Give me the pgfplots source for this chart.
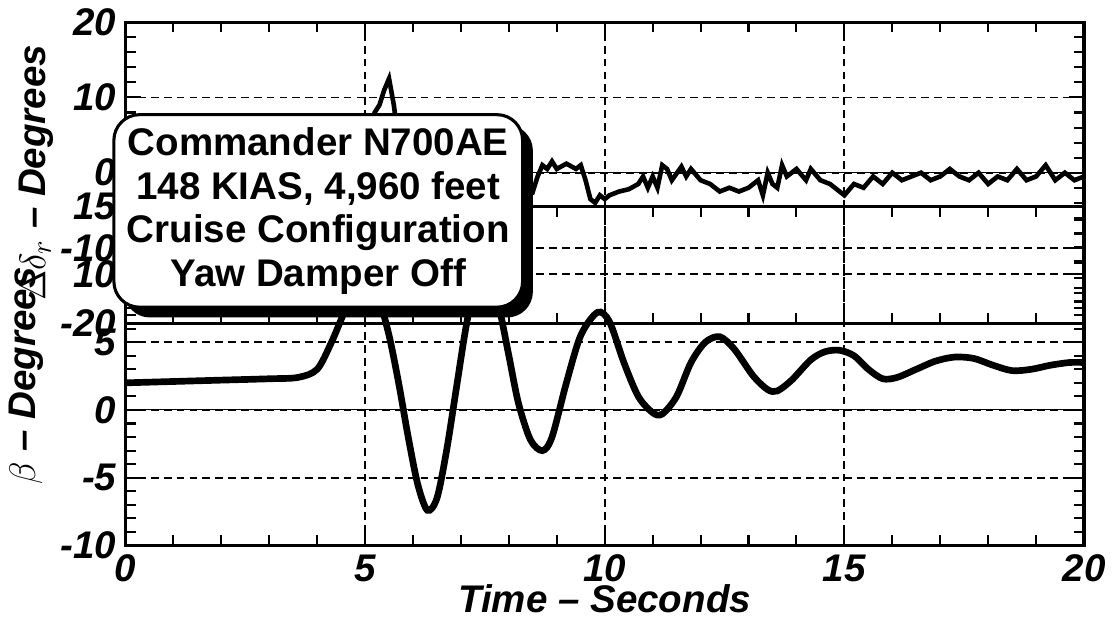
\documentclass[border=0pt]{standalone}
\usepackage{pgfplots}
\pgfplotsset{compat=1.18}
\usepackage{fontspec}
\setmainfont{Liberation Sans}
\usetikzlibrary{shadows}
\begin{document}
\begin{tikzpicture}[x=0.01346cm,y=0.01346cm]
\pgfplotsset{every axis/.style={scale only axis, width=13.12cm, xmin=0,xmax=20,
 grid=major, major grid style={black,densely dashed,line width=0.7pt},
 axis line style={line width=1.2pt}, tick style={black,line width=0.8pt},
 minor x tick num=4, minor y tick num=4, tick align=inside,
 major tick length=6pt, minor tick length=4pt,
 tick label style={font=\fontsize{15}{17}\selectfont\bfseries\itshape},
 label style={font=\fontsize{15}{17}\selectfont\bfseries\itshape},
 /pgf/number format/assume math mode=true}}
\begin{axis}[at={(128,427)}, anchor=south west, height=4.12cm, ymin=-20,ymax=20,
 ytick={-20,-10,0,10,20}, xtick={0,5,10,15,20}, xticklabels={},
 ylabel={$\Delta\delta_r$ -- Degrees}, ylabel style={yshift=-4pt}]
\addplot[black,thin,forget plot] coordinates {(0,0)(20,0)};
\addplot[black,line width=1.8pt] coordinates {
(0,-1.5)(0.1,-0.5)(0.2,-2)(0.3,-0.8)(0.4,-1.8)(0.5,-0.5)(0.6,-1.5)(0.7,-0.8)(0.8,-2)(0.9,-0.5)(1.0,-1.6)(1.1,-0.4)(1.2,-1.8)(1.3,-0.6)(1.4,-1.5)(1.5,0)(1.6,-1.8)(1.7,-0.7)(1.8,-1.6)(1.9,-0.3)(2.0,-1.7)(2.1,-0.8)(2.2,-1.5)(2.3,-1.5)(2.4,-1.2)(2.5,-1.8)(2.6,-1)(2.7,-1.6)(2.8,-1.3)(2.9,-1.7)(3.0,-1.5)(3.1,-1.2)(3.2,-1.9)(3.3,-1)(3.4,-2.5)
(3.5,-5)(3.65,-8)(3.75,-11)(3.85,-11.5)(4.0,-12)(4.1,-12.5)(4.2,-13.5)(4.35,-13.5)(4.45,-12.8)(4.55,-13.5)(4.6,-11)(4.7,-5)(4.8,0.5)(4.9,4)(5.0,4.5)(5.1,5.5)(5.2,8)(5.3,9)(5.4,11)(5.5,12.5)
(5.6,9)(5.7,4)(5.8,-2)(5.85,-3)(5.9,1)(6.0,-1)(6.1,-2)(6.2,-3.5)(6.3,-4.5)(6.4,-0.5)(6.5,1)(6.7,1)(6.8,0.2)(6.9,1.2)(7.0,1.5)(7.1,1)(7.2,2)(7.35,2)(7.5,-1)(7.6,-3)(7.7,-4.5)(7.8,-3.5)(7.9,-3.5)(8.0,-2.5)(8.2,-3)(8.4,-2)(8.5,-2.5)(8.6,-0.5)(8.7,1)(8.8,0.5)(8.9,1.5)(9.0,0.5)(9.2,1.2)(9.4,0.5)(9.5,1)(9.6,-1)(9.7,-3.5)(9.8,-4)(9.9,-3)(10.0,-3.5)(10.1,-3)(10.3,-2.5)(10.5,-2.2)(10.7,-1.5)(10.8,-0.5)(10.9,-2)(11.0,-0.5)(11.1,-2)(11.2,1)(11.3,0.5)(11.4,-1)(11.6,0.8)(11.7,-0.5)(11.8,0.5)(12.0,-1)(12.2,-1.5)(12.4,-2.5)(12.6,-2)(12.8,-2.5)(13.0,-2)(13.2,-1)(13.3,-3)(13.4,0)(13.5,-1.5)(13.6,-2)(13.7,1)(13.8,-0.5)(14.0,0.5)(14.2,-1)(14.3,0.5)(14.5,-1)(14.7,-1.5)(14.8,-2)(15.0,-3)(15.2,-1.5)(15.4,-2)(15.6,-0.5)(15.8,-1.5)(16.0,0)(16.2,-1)(16.4,-0.5)(16.6,0)(16.8,-1)(17.0,-0.5)(17.2,0.5)(17.4,-0.5)(17.6,-1)(17.8,0)(18.0,-1.5)(18.2,-0.5)(18.4,-1)(18.6,0.5)(18.8,-1)(19.0,-0.5)(19.2,1)(19.4,-1)(19.6,0)(19.8,-1)(20,-0.5)};
\end{axis}
\begin{axis}[at={(128,73)}, anchor=south west, height=4.64cm, ymin=-10,ymax=15,
 ytick={-10,-5,0,5,10,15}, xtick={0,5,10,15,20}, minor y tick num=4,
 xlabel={Time -- Seconds}, ylabel={$\beta$ -- Degrees}, xlabel style={yshift=6pt}]
\addplot[black,thin,forget plot] coordinates {(0,0)(20,0)};
\addplot[black,line width=2.6pt,smooth] coordinates {
(0,2)(1,2.1)(2,2.2)(3,2.3)(3.6,2.4)(4,3)(4.3,5)(4.6,7.5)(4.85,9.3)(5.05,9.6)(5.3,8)(5.5,5.5)(5.7,2)(5.9,-2)(6.1,-5.5)(6.3,-7.4)(6.5,-6.5)(6.7,-3)(6.9,1.5)(7.1,6)(7.3,9.5)(7.45,10.4)(7.6,10)(7.8,7.5)(8.0,4)(8.2,0.5)(8.45,-2.2)(8.7,-3)(8.9,-2)(9.2,2)(9.5,5.5)(9.85,7.2)(10.1,6.5)(10.4,3.5)(10.7,1)(11.0,-0.2)(11.2,-0.3)(11.5,1)(11.8,3.5)(12.1,5)(12.4,5.4)(12.7,4.5)(13.1,2.5)(13.4,1.5)(13.6,1.4)(13.9,2.2)(14.3,3.7)(14.6,4.3)(14.9,4.4)(15.2,4)(15.5,3)(15.8,2.3)(16.1,2.4)(16.5,3)(16.9,3.6)(17.3,3.9)(17.7,3.8)(18.1,3.3)(18.5,2.9)(18.9,3)(19.3,3.3)(19.7,3.5)(20,3.5)};
\end{axis}
\node[draw,line width=1.2pt,rounded corners=10pt,fill=white,drop shadow={shadow xshift=4pt,shadow yshift=-4pt,fill=black,opacity=1},
 align=center,font=\fontsize{15}{17}\selectfont\bfseries,inner sep=5pt] at (820,441)
 {Commander N700AE\\148 KIAS, 4,960 feet\\Cruise Configuration\\Yaw Damper Off};
\end{tikzpicture}
\end{document}
